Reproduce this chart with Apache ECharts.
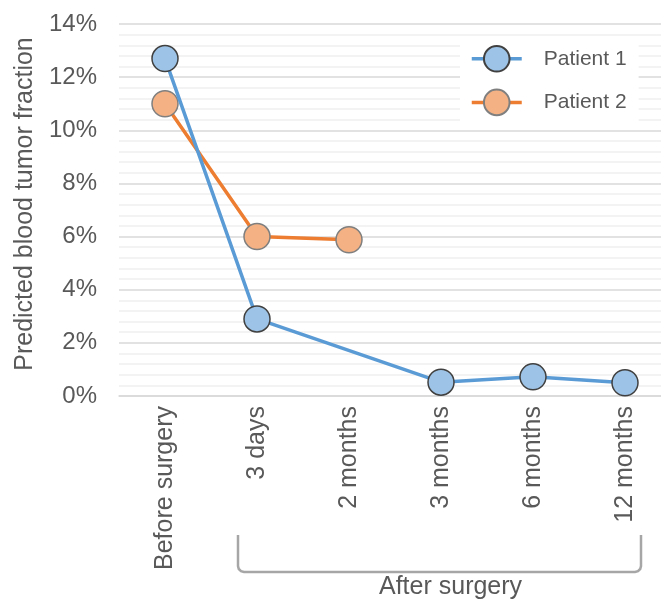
<!DOCTYPE html>
<html>
<head>
<meta charset="utf-8">
<script src="https://cdn.jsdelivr.net/npm/echarts@6/dist/echarts.min.js"></script>
<style>
html, body { margin: 0; padding: 0; background: #fff; }
#chart { width: 661px; height: 601px; }
</style>
</head>
<body>
<div id="chart"></div>
<script>
// time points and predicted fractions (%)
var categories = ['Before surgery', '3 days', '2 months', '3 months', '6 months', '12 months'];
var patient1 = [12.7, 2.9, null, 0.52, 0.72, 0.5];
var patient2 = [11.0, 6.0, 5.88, null, null, null];
var seriesNames = ['Patient 1', 'Patient 2'];
var yMin = 0, yMax = 14, yStep = 2;

var fontFam = '"Liberation Sans", Arial, sans-serif';
var txtCol = '#595959';

var myChart = echarts.init(document.getElementById('chart'));
var option = {
	animation: false,
	grid: {
		left: 119,
		width: 552,
		top: 24,
		height: 372,
		outerBoundsMode: 'none'
	},
	legend: {
		data: seriesNames,
		orient: 'vertical',
		left: 460,
		top: 37,
		padding: [8, 12, 12, 10],
		itemGap: 16,
		itemWidth: 50,
		itemHeight: 32,
		backgroundColor: '#fff',
		lineStyle: { width: 3.5 },
		textStyle: {
			fontFamily: fontFam,
			fontSize: 21,
			color: txtCol,
			padding: [0, 0, 0, 17]
		}
	},
	xAxis: {
		type: 'category',
		data: categories,
		boundaryGap: true,
		axisTick: { show: false },
		axisLine: { lineStyle: { color: '#d9d9d9', width: 1.5 } },
		axisLabel: {
			rotate: 90,
			interval: 0,
			margin: 10,
			fontFamily: fontFam,
			fontSize: 25,
			color: txtCol
		}
	},
	yAxis: {
		type: 'value',
		min: yMin,
		max: yMax,
		interval: yStep,
		name: 'Predicted blood tumor fraction',
		nameLocation: 'middle',
		nameGap: 80,
		nameTextStyle: {
			fontFamily: fontFam,
			fontSize: 25,
			color: txtCol,
			padding: [0, 0, 0, 12]
		},
		axisLine: { show: false },
		axisTick: { show: false },
		axisLabel: {
			formatter: '{value}%',
			margin: 22,
			fontFamily: fontFam,
			fontSize: 24,
			color: txtCol
		},
		splitLine: { lineStyle: { color: '#d9d9d9', width: 1.5 } },
		minorTick: { show: false, splitNumber: 5 },
		minorSplitLine: { show: true, lineStyle: { color: '#efefef', width: 1.5 } }
	},
	series: [
		{
			name: seriesNames[0],
			type: 'line',
			data: patient1,
			connectNulls: true,
			symbol: 'circle',
			symbolSize: 26,
			z: 3,
			lineStyle: { color: '#5b9bd5', width: 3.5 },
			itemStyle: { color: '#9dc3e6', borderColor: '#404040', borderWidth: 1.5 }
		},
		{
			name: seriesNames[1],
			type: 'line',
			data: patient2,
			symbol: 'circle',
			symbolSize: 26,
			z: 2,
			lineStyle: { color: '#ed7d31', width: 3.5 },
			itemStyle: { color: '#f4b183', borderColor: '#7f7f7f', borderWidth: 1.5 }
		}
	],
	graphic: [
		{
			// "after surgery" bracket
			type: 'polyline',
			shape: {
				points: [[238, 535], [238, 566], [238.8, 569], [241, 571.2], [244, 572],
					[635, 572], [638, 571.2], [640.2, 569], [641, 566], [641, 535]]
			},
			style: { fill: null, stroke: '#a6a6a6', lineWidth: 2.5 }
		},
		{
			type: 'text',
			left: 379,
			top: 575,
			style: {
				text: 'After surgery',
				fontFamily: fontFam,
				fontSize: 25,
				fill: txtCol
			}
		}
	]
};
myChart.setOption(option);
</script>
</body>
</html>
